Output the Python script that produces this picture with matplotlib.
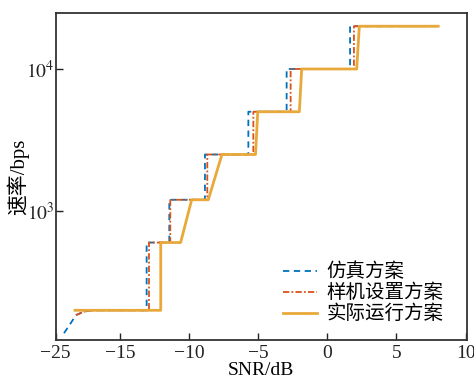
import matplotlib
matplotlib.use("Agg")
import matplotlib.pyplot as plt
from matplotlib.ticker import FixedLocator, NullLocator

plt.rcParams['font.family'] = ['Liberation Serif', 'Noto Sans CJK SC', 'DejaVu Sans']
plt.rcParams['mathtext.fontset'] = 'stix'

# Simulation scheme (blue dashed)
sim_x = [-19.06, -18.58, -18.19, -17.66, -17.06, -13.08, -13.08, -11.44, -11.44,
         -8.86, -8.86, -5.72, -5.72, -2.95, -2.95, 1.64, 1.64, 8.0]
sim_y = [138, 162, 185, 195, 200, 200, 600, 600, 1200,
         1200, 2500, 2500, 5000, 5000, 10000, 10000, 20000, 20000]

# Prototype configured scheme (red dash-dot)
proto_x = [-18.19, -17.66, -17.06, -12.91, -12.91, -11.37, -11.37,
           -8.69, -8.69, -5.36, -5.36, -2.66, -2.66, 1.92, 1.92, 8.0]
proto_y = [185, 195, 200, 200, 600, 600, 1200,
           1200, 2500, 2500, 5000, 5000, 10000, 10000, 20000, 20000]

# Actual running scheme (orange solid)
real_x = [-18.26, -12.06, -12.06, -10.62, -9.82, -8.62, -7.63, -5.20, -5.04,
          -2.03, -1.86, 2.12, 2.31, 8.02]
real_y = [200, 200, 600, 600, 1200, 1200, 2500, 2500, 5000,
          5000, 10000, 10000, 20000, 20000]

labels = ['仿真方案', '样机设置方案', '实际运行方案']
xtick_pos = [-19.66, -15, -10, -5, 0, 5, 10]
xtick_labels = ['−25', '−15', '−10', '−5', '0', '5', '10']

fig = plt.figure(figsize=(4.74, 3.79), dpi=100)
ax = fig.add_axes([55.7/474, 1 - 340/379, (466.7-55.7)/474, (340-12.7)/379])

ax.plot(sim_x, sim_y, color='#0072BD', linestyle=(0, (3.5, 2.5)), linewidth=1.3, label=labels[0])
ax.plot(proto_x, proto_y, color='#D95319', linestyle=(0, (3.5, 1.2, 1, 1.2)), linewidth=1.3, label=labels[1])
ax.plot(real_x, real_y, color='#E9A93A', linestyle='-', linewidth=2.0, label=labels[2])

ax.set_yscale('log')
ax.set_xlim(-19.66, 10.08)
ax.set_ylim(123.6, 24900)
ax.xaxis.set_major_locator(FixedLocator(xtick_pos))
ax.set_xticklabels(xtick_labels)
ax.yaxis.set_major_locator(FixedLocator([1000, 10000]))
ax.set_yticklabels([r'$10^3$', r'$10^4$'])
ax.yaxis.set_minor_locator(NullLocator())
ax.tick_params(direction='in', length=5, width=1.0, labelsize=14, colors='#222222')
ax.tick_params(axis='y', pad=1)

for s in ax.spines.values():
    s.set_linewidth(1.3)
    s.set_color('#333333')

ax.set_xlabel('SNR/dB', fontsize=14, labelpad=0)
ax.set_ylabel('速率/bps', fontsize=15, labelpad=-2)

leg = ax.legend(loc='lower right', frameon=False, fontsize=14, handlelength=1.75,
                handletextpad=0.5, labelspacing=0.12, borderaxespad=0.0,
                bbox_to_anchor=(0.962, 0.027))

fig.savefig('out.png', dpi=100)
